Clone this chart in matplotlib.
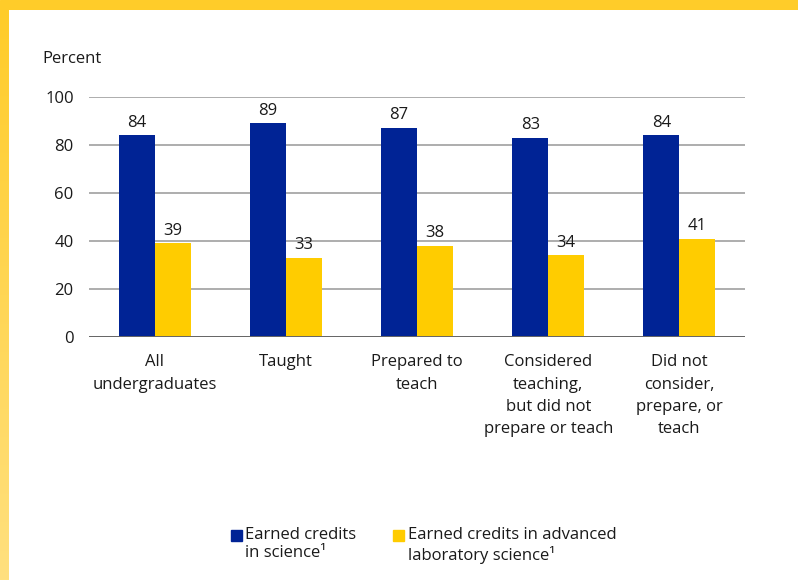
import matplotlib
matplotlib.use("Agg")
import matplotlib.pyplot as plt
import numpy as np
from matplotlib.patches import Rectangle
from matplotlib.colors import LinearSegmentedColormap

categories = ["All\nundergraduates", "Taught", "Prepared to\nteach",
              "Considered\nteaching,\nbut did not\nprepare or teach",
              "Did not\nconsider,\nprepare, or\nteach"]
science = [84, 89, 87, 83, 84]
adv_lab = [39, 33, 38, 34, 41]
yticks = [0, 20, 40, 60, 80, 100]
series_labels = ["Earned credits\nin science¹", "Earned credits in advanced\nlaboratory science¹"]
colors = ['#002395', '#FFCC00']

plt.rcParams['font.family'] = ['Open Sans', 'DejaVu Sans']
FS = 12
TXT = '#1a1a1a'
W, H = 798, 580
fig = plt.figure(figsize=(W/100, H/100), dpi=100)

# borders
top = fig.add_axes([0, 1 - 10/H, 1, 10/H])
top.set_axis_off()
top.add_patch(Rectangle((0, 0), 1, 1, color='#FFCC29', transform=top.transAxes))
left = fig.add_axes([0, 0, 9/W, 1 - 10/H])
left.set_axis_off()
grad = np.linspace(0, 1, 256).reshape(-1, 1)
cmap = LinearSegmentedColormap.from_list('g', ['#FFE07F', '#FFCC29'])
left.imshow(grad, aspect='auto', cmap=cmap, origin='lower', extent=[0, 1, 0, 1])

x0, x1 = 89, 745
y100, y0 = 97, 337
ax = fig.add_axes([x0/W, 1 - y0/H, (x1 - x0)/W, (y0 - y100)/H])
x = np.arange(len(categories))
bw = 0.274
b1 = ax.bar(x - bw/2, science, bw, color=colors[0], zorder=3)
b2 = ax.bar(x + bw/2, adv_lab, bw, color=colors[1], zorder=3)
for rects, vals in ((b1, science), (b2, adv_lab)):
    for r, v in zip(rects, vals):
        ax.text(r.get_x() + r.get_width()/2, v + 2, str(v), ha='center', va='bottom', fontsize=FS, color=TXT, zorder=4)

ax.set_xlim(-0.5, len(categories) - 0.5)
ax.set_ylim(0, 100)
ax.set_yticks(yticks)
ax.set_yticklabels([str(t) for t in yticks], fontsize=FS, color=TXT)
ax.set_xticks(x)
ax.set_xticklabels(categories, fontsize=FS, color=TXT, linespacing=1.52, va='top')
ax.tick_params(axis='y', length=0, pad=11)
ax.tick_params(axis='x', length=0, pad=12.5)
for sp in ax.spines.values():
    sp.set_visible(False)
ax.yaxis.grid(True, color='#a0a0a0', linewidth=1.2, zorder=0)
ax.axhline(0, color='#666666', linewidth=1.4, zorder=4)
fig.text(42/W, 1 - 63/H, 'Percent', fontsize=FS, color=TXT, ha='left', va='baseline')

# legend
for (sx, tx), lab, c in zip(((231, 245), (393, 408)), series_labels, colors):
    fig.patches.append(Rectangle((sx/W, 1 - 541/H), 11/W, 11/H, color=c, transform=fig.transFigure))
    fig.text(tx/W, 1 - 527/H, lab, fontsize=FS, color=TXT, ha='left', va='top', linespacing=1.2)

fig.savefig('out.png', dpi=100)
